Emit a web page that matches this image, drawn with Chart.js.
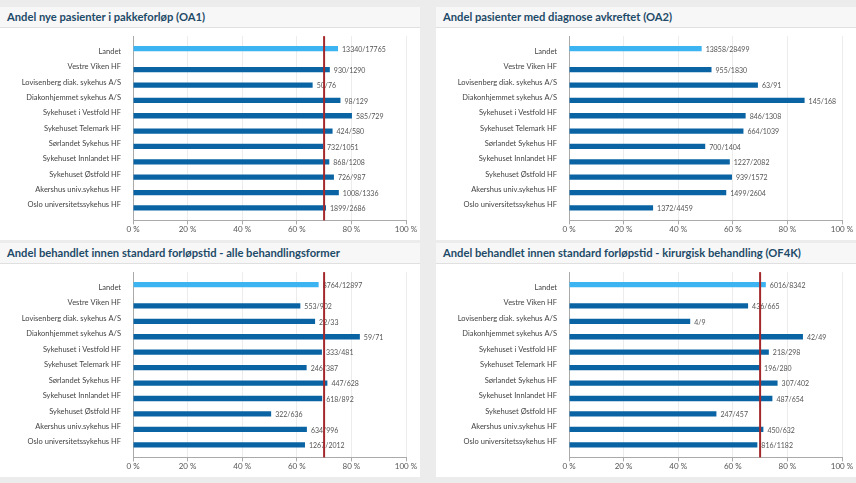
<!DOCTYPE html>
<html>
<head>
<meta charset="utf-8">
<script src="https://cdn.jsdelivr.net/npm/chart.js@4.4.1/dist/chart.umd.min.js"></script>
<style>
  body { margin: 0; width: 856px; height: 483px; overflow: hidden; background: #ececec; font-family: Lato, sans-serif; }
  .panel { position: absolute; width: 420px; background: #fff; }
  .title { height: 20px; line-height: 20px; padding-left: 7px; background: #f7f7f7; border-bottom: 1px solid #e0e0e0;
           font-weight: 700; font-size: 11.2px; color: #1d4a68; white-space: nowrap; }
  canvas { display: block; }
</style>
</head>
<body>

<div class="panel" style="left:0;top:7px">
  <div class="title">Andel nye pasienter i pakkeforløp (OA1)</div>
  <canvas id="oa1" width="420" height="212"></canvas>
</div>
<div class="panel" style="left:436px;top:7px">
  <div class="title">Andel pasienter med diagnose avkreftet (OA2)</div>
  <canvas id="oa2" width="420" height="212"></canvas>
</div>
<div class="panel" style="left:0;top:243px">
  <div class="title">Andel behandlet innen standard forløpstid - alle behandlingsformer</div>
  <canvas id="alle" width="420" height="213"></canvas>
</div>
<div class="panel" style="left:436px;top:243px">
  <div class="title">Andel behandlet innen standard forløpstid - kirurgisk behandling (OF4K)</div>
  <canvas id="of4k" width="420" height="213"></canvas>
</div>

<script>
// first entry is the national figure (Landet), the rest are the health trusts
const units = ['Landet', 'Vestre Viken HF', 'Lovisenberg diak. sykehus A/S', 'Diakonhjemmet sykehus A/S',
  'Sykehuset i Vestfold HF', 'Sykehuset Telemark HF', 'Sørlandet Sykehus HF', 'Sykehuset Innlandet HF',
  'Sykehuset Østfold HF', 'Akershus univ.sykehus HF', 'Oslo universitetssykehus HF'];

const xTicks = [0, 20, 40, 60, 80, 100];

// OA1
const oa1Pct = [75.1, 72.1, 65.8, 76.0, 80.2, 73.1, 69.6, 71.9, 73.6, 75.4, 70.7];
const oa1Counts = ['13340/17765', '930/1290', '50/76', '98/129', '585/729', '424/580', '732/1051', '868/1208', '726/987', '1008/1336', '1899/2686'];

// OA2
const oa2Pct = [48.6, 52.2, 69.2, 86.3, 64.7, 63.9, 49.9, 58.9, 59.7, 57.6, 30.8];
const oa2Counts = ['13858/28499', '955/1830', '63/91', '145/168', '846/1308', '664/1039', '700/1404', '1227/2082', '939/1572', '1499/2604', '1372/4459'];

// alle behandlingsformer
const allePct = [68.0, 61.3, 66.7, 83.1, 69.2, 63.6, 71.2, 69.3, 50.6, 63.7, 63.0];
const alleCounts = ['8764/12897', '553/902', '22/33', '59/71', '333/481', '246/387', '447/628', '618/892', '322/636', '634/996', '1267/2012'];

// OF4K
const of4kPct = [72.1, 65.6, 44.4, 85.7, 73.2, 70.0, 76.4, 74.5, 54.0, 71.2, 69.0];
const of4kCounts = ['6016/8342', '436/665', '4/9', '42/49', '218/298', '196/280', '307/402', '487/654', '247/457', '450/632', '816/1182'];

// target level (red line), null = no line
const targetLevel = 70;

const landetColor = '#3db4f2';
const hfColor = '#0a64a4';

// draws the n/d text after each bar, then the target line on top
const barLabels = {
  id: 'barLabels',
  afterDatasetsDraw(chart, args, opts) {
    const ctx = chart.ctx;
    ctx.save();
    ctx.font = '7px Lato';
    ctx.fillStyle = '#555';
    ctx.textBaseline = 'middle';
    chart.data.datasets.forEach((ds, di) => {
      chart.getDatasetMeta(di).data.forEach((bar, i) => {
        ctx.fillText(ds.counts[i], bar.x + 4, bar.y + 1);
      });
    });
    if (opts.target != null) {
      const x = chart.scales.x.getPixelForValue(opts.target);
      ctx.strokeStyle = '#a3282c';
      ctx.lineWidth = 2;
      ctx.beginPath();
      ctx.moveTo(x, chart.chartArea.top);
      ctx.lineTo(x, chart.chartArea.bottom);
      ctx.stroke();
    }
    ctx.restore();
  }
};

function makeChart(id, pct, counts, target) {
  const ctx = document.getElementById(id).getContext('2d');
  new Chart(ctx, {
    type: 'bar',
    data: {
      datasets: [
        {
          label: 'Landet',
          data: [{ x: pct[0], y: 0 }],
          counts: counts.slice(0, 1),
          backgroundColor: landetColor
        },
        {
          label: 'HF',
          data: pct.slice(1).map((v, i) => ({ x: v, y: i + 1 })),
          counts: counts.slice(1),
          backgroundColor: hfColor
        }
      ]
    },
    options: {
      indexAxis: 'y',
      responsive: false,
      animation: false,
      categoryPercentage: 0.74,
      barPercentage: 0.93,
      layout: { padding: { top: 0, right: 14, bottom: 6, left: 0 } },
      scales: {
        x: {
          type: 'linear',
          min: 0,
          max: 100,
          afterBuildTicks: (s) => { s.ticks = xTicks.map(v => ({ value: v })); },
          ticks: {
            callback: v => v + ' %',
            font: { family: 'Lato', size: 8 },
            color: '#555',
            padding: 0,
            maxRotation: 0
          },
          grid: { color: '#ececec', tickColor: '#aaa', tickLength: 4 },
          border: { color: '#aaa' }
        },
        y: {
          type: 'linear',
          offset: false,
          reverse: true,
          min: -1,
          max: 11,
          afterFit: (s) => { s.width = 133; },
          ticks: {
            stepSize: 1,
            autoSkip: false,
            callback: v => units[v] ?? '',
            font: { family: 'Lato', size: 7.5, lineHeight: 1.1 },
            color: '#444',
            padding: 4
          },
          grid: { display: false },
          border: { color: '#aaa' }
        }
      },
      plugins: {
        legend: { display: false },
        tooltip: { enabled: false },
        barLabels: { target: target }
      }
    },
    plugins: [barLabels]
  });
}

makeChart('oa1', oa1Pct, oa1Counts, targetLevel);
makeChart('oa2', oa2Pct, oa2Counts, null);
makeChart('alle', allePct, alleCounts, targetLevel);
makeChart('of4k', of4kPct, of4kCounts, targetLevel);
</script>
</body>
</html>
